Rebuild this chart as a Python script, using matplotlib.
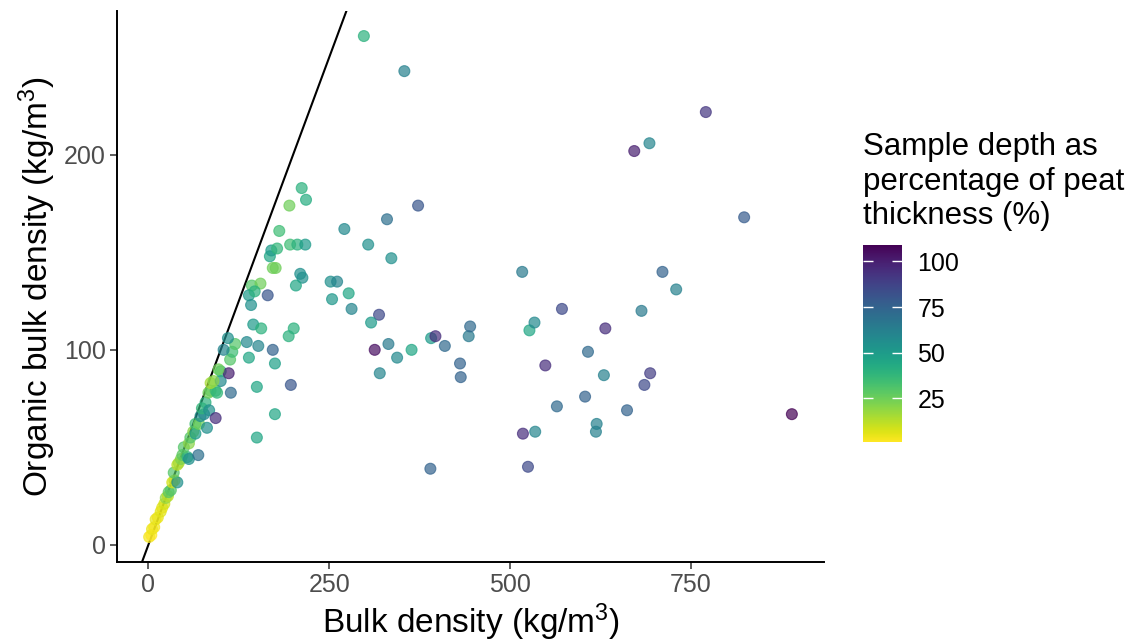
import matplotlib
matplotlib.use('Agg')
import matplotlib.pyplot as plt
import matplotlib.colors as mcolors

plt.rcParams['font.family'] = ['Liberation Sans', 'DejaVu Sans']
plt.rcParams['mathtext.fontset'] = 'custom'
plt.rcParams['mathtext.rm'] = 'Liberation Sans'
plt.rcParams['mathtext.it'] = 'Liberation Sans:italic'

# bulk density (kg/m3), organic bulk density (kg/m3), sample depth (% of peat thickness)
bulk = [1, 4, 5, 8, 10, 13, 17, 19, 22, 24, 27, 28, 31, 33, 36, 40, 35, 40, 42, 45,
        47, 54, 56, 69, 49, 56, 58, 62, 65, 65, 70, 72, 77, 74, 79, 84, 81, 93, 86, 83,
        93, 95, 86, 100, 114, 100, 111, 113, 116, 104, 120, 110, 90, 97,
        136, 152, 172, 139, 175, 150, 175, 150, 197, 145, 156, 194, 201, 143, 155, 139,
        147, 142, 165, 168, 170, 178, 172, 176, 181, 195, 212, 218, 196, 206, 217, 210,
        213, 204,
        252, 261, 254, 277, 281, 271, 304, 336, 330, 373, 298, 354, 319, 308, 313, 364,
        332, 344, 320, 391, 397, 410, 443, 445, 431, 432, 390,
        517, 527, 534, 549, 572, 608, 632, 604, 565, 630, 662, 620, 619, 518, 535, 525,
        682, 694, 686, 711, 730, 693, 672, 771, 824, 890]
organic = [4, 5, 8, 9, 13, 14, 17, 19, 21, 24, 25, 27, 28, 32, 33, 32, 37, 41, 42, 44,
           46, 45, 44, 46, 50, 52, 55, 58, 57, 62, 62, 66, 67, 70, 73, 69, 60, 65, 79, 78,
           79, 78, 83, 84, 78, 89, 88, 95, 99, 100, 103, 106, 84, 90,
           104, 102, 100, 96, 93, 81, 67, 55, 82, 113, 111, 107, 111, 133, 134, 128,
           130, 123, 128, 148, 151, 152, 142, 142, 161, 174, 183, 177, 154, 154, 154, 139,
           137, 133,
           135, 135, 126, 129, 121, 162, 154, 147, 167, 174, 261, 243, 118, 114, 100, 100,
           103, 96, 88, 106, 107, 102, 107, 112, 93, 86, 39,
           140, 110, 114, 92, 121, 99, 111, 76, 71, 87, 69, 62, 58, 57, 58, 40,
           120, 88, 82, 140, 131, 206, 202, 222, 168, 67]
depth = [3, 1, 4, 3, 5, 4, 6, 5, 8, 18, 12, 28, 30, 8, 10, 55, 30, 12, 15, 22,
         28, 40, 55, 70, 30, 20, 30, 20, 50, 35, 25, 55, 58, 38, 40, 55, 55, 95, 30, 25,
         35, 38, 15, 58, 72, 40, 100, 30, 35, 60, 30, 55, 20, 25,
         58, 60, 75, 45, 48, 45, 45, 45, 80, 50, 40, 40, 40, 30, 25, 50,
         40, 55, 80, 45, 50, 38, 25, 25, 35, 25, 40, 42, 35, 40, 50, 55,
         55, 45,
         55, 60, 52, 45, 60, 58, 55, 55, 70, 80, 40, 62, 85, 50, 105, 45,
         65, 58, 60, 50, 95, 72, 65, 72, 75, 75, 75,
         65, 45, 58, 95, 85, 72, 95, 75, 72, 62, 75, 62, 62, 95, 60, 85,
         65, 90, 85, 75, 62, 60, 100, 92, 78, 109]

W, H = 1142, 642
fig = plt.figure(figsize=(W / 100, H / 100), dpi=100)
ax = fig.add_axes([117 / W, 1 - 562 / H, 707 / W, 551 / H])

norm = mcolors.Normalize(vmin=min(depth), vmax=max(depth))
ax.axline((0, 0), slope=1, color='black', lw=1.5, zorder=1)
ax.scatter(bulk, organic, c=depth, cmap='viridis_r', norm=norm, s=62,
           alpha=0.7, edgecolors='face', linewidths=0.8, zorder=2)

# ggplot-style 5% expansion
xr = max(bulk) - min(bulk)
yr = max(organic) - min(organic)
ax.set_xlim(min(bulk) - 0.05 * xr, max(bulk) + 0.05 * xr)
ax.set_ylim(min(organic) - 0.05 * yr, max(organic) + 0.05 * yr)

ax.set_xticks([0, 250, 500, 750])
ax.set_yticks([0, 100, 200])
for s in ['top', 'right']:
    ax.spines[s].set_visible(False)
for s in ['left', 'bottom']:
    ax.spines[s].set_linewidth(1.4)
ax.tick_params(labelsize=18, labelcolor='#4d4d4d', color='#333333',
               length=5, width=1.1, pad=3)

ax.set_xlabel('Bulk density (kg/m$^3$)', fontsize=24, color='black')
ax.set_ylabel('Organic bulk density (kg/m$^3$)', fontsize=24, color='black')
ax.xaxis.set_label_coords(0.5, -0.072)
ax.yaxis.set_label_coords(-0.083, 0.5)

# colourbar legend
cax = fig.add_axes([863 / W, 1 - 442 / H, 39 / W, 197 / H])
sm = plt.cm.ScalarMappable(norm=norm, cmap='viridis_r')
cb = fig.colorbar(sm, cax=cax, ticks=[25, 50, 75, 100])
cb.outline.set_visible(False)
cax.tick_params(direction='in', color='white', length=7, width=1,
                left=True, right=True, labelsize=18, labelcolor='black', pad=11)
fig.text(863 / W, 1 - 132 / H, 'Sample depth as\npercentage of peat\nthickness (%)',
         fontsize=22.5, va='top', ha='left', linespacing=1.2)

plt.savefig('out.png', dpi=100)
